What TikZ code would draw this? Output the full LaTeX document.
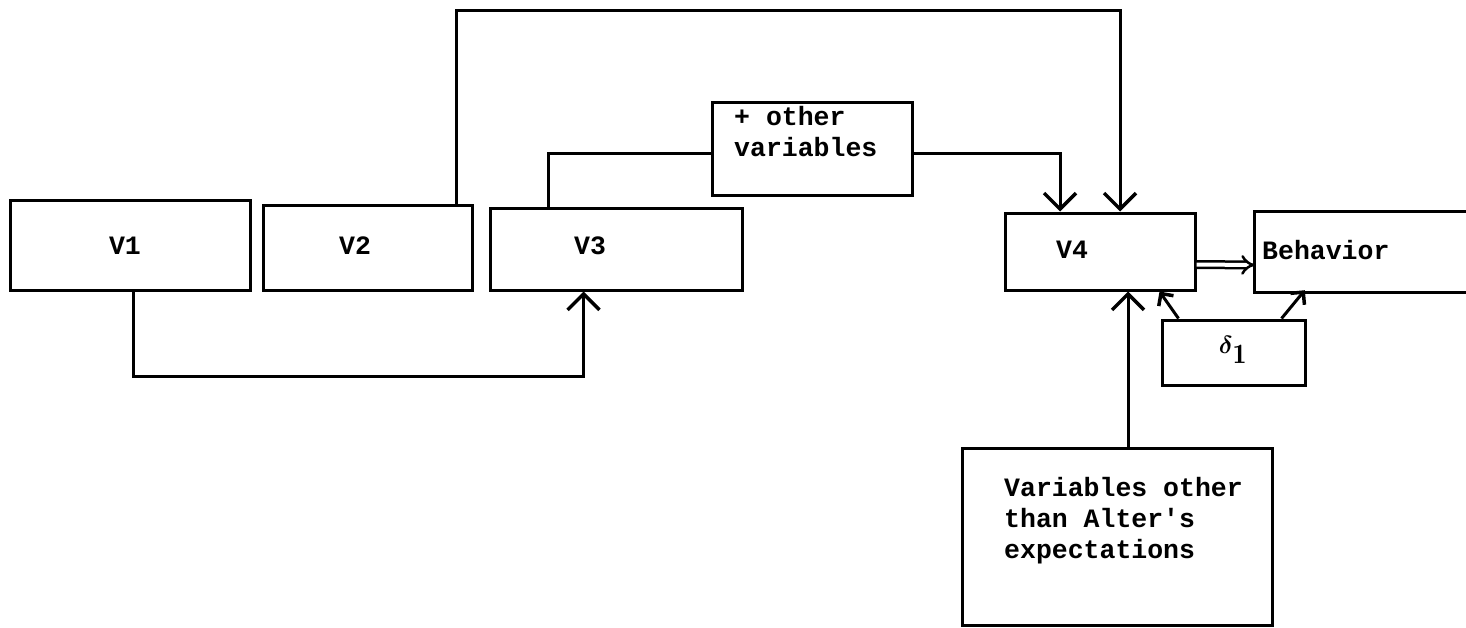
\documentclass[tikz,border=0pt]{standalone}
\usepackage{amsmath}
\usepackage{fontspec}
\setmonofont{Liberation Mono}
\usetikzlibrary{arrows.meta,calc}
\begin{document}
\begin{tikzpicture}[x=1pt,y=-1pt,
  box/.style={draw,line width=3pt,inner sep=0pt},
  txt/.style={font=\fontsize{26.5}{31}\selectfont\ttfamily\bfseries,inner sep=0pt,align=left},
  conn/.style={line width=3pt},
  arr/.style={line width=3pt,-{Straight Barb[length=16pt,width=32pt,line width=3.5pt]}},
  sarr/.style={line width=3pt,-{Straight Barb[length=9pt,width=18pt,line width=3.5pt]}}]
\useasboundingbox (0,0) rectangle (1466,627);
\node[box,minimum width=240pt,minimum height=90pt] (v1) at (130,245) {};
\node[box,minimum width=209pt,minimum height=85pt] (v2) at (367.5,247.5) {};
\node[box,minimum width=252pt,minimum height=82pt] (v3) at (616,249) {};
\node[box,minimum width=200pt,minimum height=93pt] (oth) at (812,148.5) {};
\node[box,minimum width=190pt,minimum height=77pt] (v4) at (1100,251.5) {};
\node[inner sep=0pt,minimum width=245pt,minimum height=80pt] (beh) at (1377.5,252) {};
\draw[line width=3pt] (beh.north east) -- (beh.north west) -- (beh.south west) -- (beh.south east);
\node[box,minimum width=143pt,minimum height=65pt] (d1) at (1233.5,352.5) {};
\node[box,minimum width=310pt,minimum height=177pt] (var) at (1117,536.5) {};
% labels
\node[txt] (t1) at (125,246) {V1};
\node[txt] (t2) at (355,246) {V2};
\node[txt] (t3) at (590,246) {V3};
\node[txt] (t4) at (1072,250) {V4};
\node[txt,anchor=west] (tb) at (1262,250) {Behavior};
\node[txt,anchor=north west] (to) at (734,106) {+ other\\variables};
\node[txt,anchor=north west] (tv) at (1004,477) {Variables other\\than Alter's\\expectations};
\node[font=\fontsize{40}{40}\selectfont,inner sep=0pt] (td) at (1233,350) {$\boldsymbol{\delta}_{\mathbf{1}}$};
% connectors
\draw[arr] ($(v1.south west)+(125,0)$) -- ++(0,85) -| ($(v3.south west)+(95,0)$);
\draw[arr] ($(v2.north east)+(-17,0)$) -- ++(0,-193) -| ($(v4.north)+(20,0)$);
\draw[conn] ($(v3.north west)+(60,0)$) |- ($(oth.west)+(0,5)$);
\draw[arr] ($(oth.east)+(0,5)$) -| ($(v4.north)+(-40,0)$);
\draw[line width=2.5pt,double distance=4pt,-{Implies[length=14pt]}] ($(v4.east)+(0,13)$) -- ($(beh.west)+(0,13)$);
\draw[sarr] ($(d1.north west)+(18,0)$) -- ($(v4.south east)+(-37,0)$);
\draw[sarr] ($(d1.north east)+(-25,0)$) -- ($(beh.south west)+(50,-2)$);
\draw[arr] ($(var.north)+(11,0)$) -- ($(v4.south)+(28,0)$);
\end{tikzpicture}
\end{document}
